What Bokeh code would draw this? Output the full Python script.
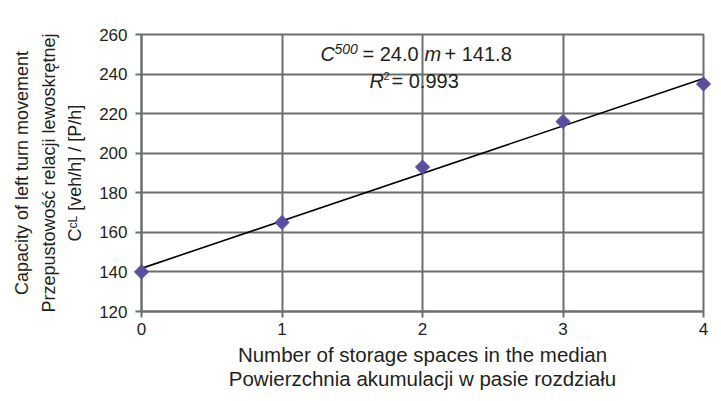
from bokeh.plotting import figure
from bokeh.models import Label, FixedTicker, Range1d
from bokeh.embed import file_html
from bokeh.resources import INLINE

# ---- data ----
storage_spaces = [0, 1, 2, 3, 4]
capacity = [140, 165, 193, 216, 235]
fit_slope = 24.0
fit_intercept = 141.8
r_squared = 0.993
x_ticks = [0, 1, 2, 3, 4]
y_ticks = [120, 140, 160, 180, 200, 220, 240, 260]

x_title = "Number of storage spaces in the median\nPowierzchnia akumulacji w pasie rozdziału"
y_title = "Capacity of left turn movement\nPrzepustowość relacji lewoskrętnej\nC\u1d9c\u1d38 [veh/h] / [P/h]"

FONT = "Liberation Sans"
GRID = "#6b6f6f"
TXT = "#231f20"

# frame geometry (picture px)
FL, FR, FT, FB = 141, 703, 34, 311
W, H = 713, 393

p = figure(width=W, height=H, output_backend="svg", toolbar_location=None,
           x_range=Range1d(0, 4), y_range=Range1d(120, 260),
           min_border_left=FL, min_border_right=W - FR,
           min_border_top=FT, min_border_bottom=H - FB)
p.background_fill_color = "white"
p.border_fill_color = "white"
p.outline_line_color = GRID
p.outline_line_width = 2

for ax in (p.xaxis[0], p.yaxis[0]):
    ax.axis_line_color = GRID
    ax.axis_line_width = 2
    ax.major_tick_line_color = GRID
    ax.major_tick_line_width = 2
    ax.major_tick_out = 6
    ax.major_tick_in = 0
    ax.minor_tick_line_color = None
    ax.major_label_text_font = FONT
    ax.major_label_text_font_size = "17px"
    ax.major_label_text_color = TXT
    ax.axis_label_text_font = FONT
    ax.axis_label_text_font_style = "normal"
    ax.axis_label_text_color = TXT

p.xaxis[0].ticker = FixedTicker(ticks=x_ticks)
p.yaxis[0].ticker = FixedTicker(ticks=y_ticks)
p.xaxis[0].major_label_standoff = 5
p.yaxis[0].major_label_standoff = 8
p.xaxis[0].axis_label = x_title
p.yaxis[0].axis_label = y_title
p.xaxis[0].axis_label_text_font_size = "20.5px"
p.xaxis[0].axis_label_text_line_height = 1.08
p.yaxis[0].axis_label_text_font_size = "18px"
p.yaxis[0].axis_label_text_line_height = 1.33
p.xaxis[0].axis_label_standoff = 5
p.yaxis[0].axis_label_standoff = 11

p.xgrid[0].ticker = FixedTicker(ticks=x_ticks)
p.ygrid[0].ticker = FixedTicker(ticks=y_ticks)
p.grid.grid_line_color = GRID
p.grid.grid_line_width = 2

# trend line
line_x = [storage_spaces[0], storage_spaces[-1]]
line_y = [fit_intercept + fit_slope * v for v in line_x]
p.line(line_x, line_y, line_color="black", line_width=1.6)

# data points
p.scatter(storage_spaces, capacity, marker="square", angle=0.785398, size=10,
          fill_color="#5a4ea0", line_color="#5a4ea0", level="overlay")


def dx(px):
    return (px - FL) / (FR - FL) * 4


def dy(py):
    return 120 + (FB - py) / (FB - FT) * 140


def lab(text, px, py, size="20px", style="normal"):
    p.add_layout(Label(x=dx(px), y=dy(py), text=text, text_font=FONT,
                       text_font_size=size, text_font_style=style,
                       text_color=TXT, text_align="left",
                       text_baseline="middle"))


# equation
lab("C", 320, 53, style="italic")
lab("500", 334, 48, size="14px", style="italic")
lab("= 24.0", 362, 53)
lab("m", 424, 53, style="italic")
lab("+ 141.8", 444, 53)
lab("R", 369, 80, style="italic")
lab("2", 383, 75, size="11px")
lab("= %.3f" % r_squared, 391, 80)

open("out.html", "w").write(file_html(p, INLINE))
